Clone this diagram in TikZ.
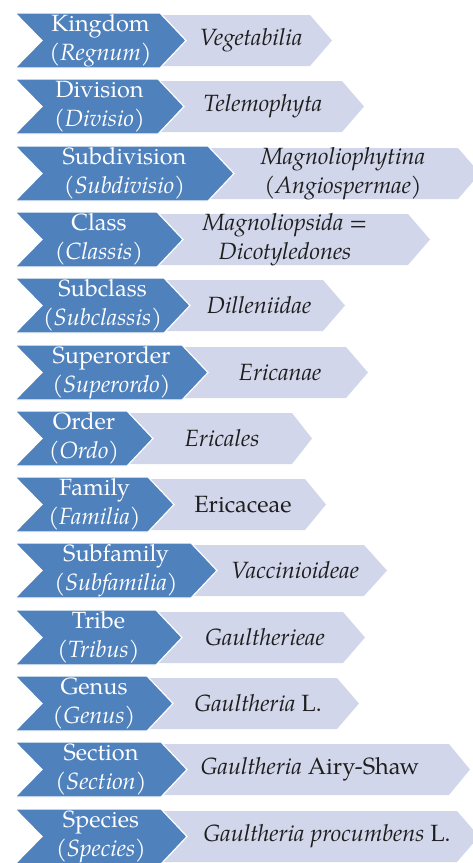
\documentclass[tikz,border=0pt]{standalone}
\usepackage{fontspec}
\setmainfont{texgyrepagella}[Extension=.otf,UprightFont=*-regular,ItalicFont=*-italic,BoldFont=*-bold,BoldItalicFont=*-bolditalic]
\usepackage{tikz}
\definecolor{rankblue}{RGB}{79,129,189}
\definecolor{taxonlilac}{RGB}{210,214,234}
\definecolor{taxontext}{RGB}{30,30,30}
\tikzset{
  rankchev/.style={fill=rankblue,draw=white,line width=1.2pt,line join=miter},
  taxonchev/.style={fill=taxonlilac},
  ranklabel/.style={font=\fontsize{23.5}{29}\selectfont,align=center,text=white,inner sep=0pt},
  taxonlabel/.style={font=\fontsize{23.5}{29}\selectfont,align=center,text=taxontext,inner sep=0pt}
}
\begin{document}
\begin{tikzpicture}[x=1pt,y=-1pt]
\useasboundingbox (0,0) rectangle (473,863);
\clip (0,0) rectangle (473,863);

% Kingdom
\fill[taxonchev] (150,15) -- (310,15) -- (332,40.5) -- (310,66) -- (150,66) -- cycle;
\filldraw[rankchev] (15,13) -- (160,13) -- (186,40.5) -- (160,68) -- (15,68) -- (42,40.5) -- cycle;
\node[ranklabel] (kingdom) at (100.5,40.5) {Kingdom\\(\textit{Regnum})};
\node[taxonlabel] (vegetabilia) at (251,40.5) {\textit{Vegetabilia}};

% Division
\fill[taxonchev] (148,81) -- (342,81) -- (364,106.5) -- (342,132) -- (148,132) -- cycle;
\filldraw[rankchev] (15,79) -- (158,79) -- (184,106.5) -- (158,134) -- (15,134) -- (42,106.5) -- cycle;
\node[ranklabel] (division) at (99.5,106.5) {Division\\(\textit{Divisio})};
\node[taxonlabel] (telemophyta) at (263,106.5) {\textit{Telemophyta}};

% Subdivision
\fill[taxonchev] (198,148) -- (458,148) -- (480,173.5) -- (458,199) -- (198,199) -- cycle;
\filldraw[rankchev] (15,146) -- (208,146) -- (234,173.5) -- (208,201) -- (15,201) -- (42,173.5) -- cycle;
\node[ranklabel] (subdivision) at (124.5,173.5) {Subdivision\\(\textit{Subdivisio})};
\node[taxonlabel] (magnoliophytina) at (343,173.5) {\textit{Magnoliophytina}\\(\textit{Angiospermae})};

% Class
\fill[taxonchev] (147,214) -- (408,214) -- (430,239.5) -- (408,265) -- (147,265) -- cycle;
\filldraw[rankchev] (15,212) -- (157,212) -- (183,239.5) -- (157,267) -- (15,267) -- (42,239.5) -- cycle;
\node[ranklabel] (class) at (99,239.5) {Class\\(\textit{Classis})};
\node[taxonlabel] (magnoliopsida) at (285,239.5) {\textit{Magnoliopsida} =\\\textit{Dicotyledones}};

% Subclass
\fill[taxonchev] (154,280) -- (323,280) -- (345,305.5) -- (323,331) -- (154,331) -- cycle;
\filldraw[rankchev] (15,278) -- (164,278) -- (190,305.5) -- (164,333) -- (15,333) -- (42,305.5) -- cycle;
\node[ranklabel] (subclass) at (102.5,305.5) {Subclass\\(\textit{Subclassis})};
\node[taxonlabel] (dilleniidae) at (259,305.5) {\textit{Dilleniidae}};

% Superorder
\fill[taxonchev] (172,347) -- (346,347) -- (368,372.5) -- (346,398) -- (172,398) -- cycle;
\filldraw[rankchev] (15,345) -- (182,345) -- (208,372.5) -- (182,400) -- (15,400) -- (42,372.5) -- cycle;
\node[ranklabel] (superorder) at (111.5,372.5) {Superorder\\(\textit{Superordo})};
\node[taxonlabel] (ericanae) at (280,372.5) {\textit{Ericanae}};

% Order
\fill[taxonchev] (117,413) -- (292,413) -- (312,438.5) -- (292,464) -- (117,464) -- cycle;
\filldraw[rankchev] (15,411) -- (127,411) -- (153,438.5) -- (127,466) -- (15,466) -- (42,438.5) -- cycle;
\node[ranklabel] (order) at (84,438.5) {Order\\(\textit{Ordo})};
\node[taxonlabel] (ericales) at (222,438.5) {\textit{Ericales}};

% Family
\fill[taxonchev] (138,479) -- (305,479) -- (326,504.5) -- (305,530) -- (138,530) -- cycle;
\filldraw[rankchev] (15,477) -- (148,477) -- (174,504.5) -- (148,532) -- (15,532) -- (42,504.5) -- cycle;
\node[ranklabel] (family) at (94.5,504.5) {Family\\(\textit{Familia})};
\node[taxonlabel] (ericaceae) at (243,504.5) {Ericaceae};

% Subfamily
\fill[taxonchev] (181,545) -- (364,545) -- (387,570.5) -- (364,596) -- (181,596) -- cycle;
\filldraw[rankchev] (15,543) -- (191,543) -- (217,570.5) -- (191,598) -- (15,598) -- (42,570.5) -- cycle;
\node[ranklabel] (subfamily) at (116,570.5) {Subfamily\\(\textit{Subfamilia})};
\node[taxonlabel] (vaccinioideae) at (295,570.5) {\textit{Vaccinioideae}};

% Tribe
\fill[taxonchev] (146,612) -- (343,612) -- (365,637.5) -- (343,663) -- (146,663) -- cycle;
\filldraw[rankchev] (15,610) -- (156,610) -- (182,637.5) -- (156,665) -- (15,665) -- (42,637.5) -- cycle;
\node[ranklabel] (tribe) at (98.5,637.5) {Tribe\\(\textit{Tribus})};
\node[taxonlabel] (gaultherieae) at (265,637.5) {\textit{Gaultherieae}};

% Genus
\fill[taxonchev] (137,678) -- (337,678) -- (359,703.5) -- (337,729) -- (137,729) -- cycle;
\filldraw[rankchev] (15,676) -- (147,676) -- (173,703.5) -- (147,731) -- (15,731) -- (42,703.5) -- cycle;
\node[ranklabel] (genus) at (94,703.5) {Genus\\(\textit{Genus})};
\node[taxonlabel] (gaultheria) at (258,703.5) {\textit{Gaultheria} L.};

% Section
\fill[taxonchev] (151,744) -- (449,744) -- (470,769.5) -- (449,795) -- (151,795) -- cycle;
\filldraw[rankchev] (15,742) -- (161,742) -- (187,769.5) -- (161,797) -- (15,797) -- (42,769.5) -- cycle;
\node[ranklabel] (section) at (101,769.5) {Section\\(\textit{Section})};
\node[taxonlabel] (airyshaw) at (310,769.5) {\textit{Gaultheria} Airy-Shaw};

% Species
\fill[taxonchev] (151,811) -- (457,811) -- (479,836.5) -- (457,862) -- (151,862) -- cycle;
\filldraw[rankchev] (15,809) -- (161,809) -- (187,836.5) -- (161,864) -- (15,864) -- (42,836.5) -- cycle;
\node[ranklabel] (species) at (101,836.5) {Species\\(\textit{Species})};
\node[taxonlabel] (procumbens) at (327,836.5) {\textit{Gaultheria procumbens} L.};

\end{tikzpicture}
\end{document}
